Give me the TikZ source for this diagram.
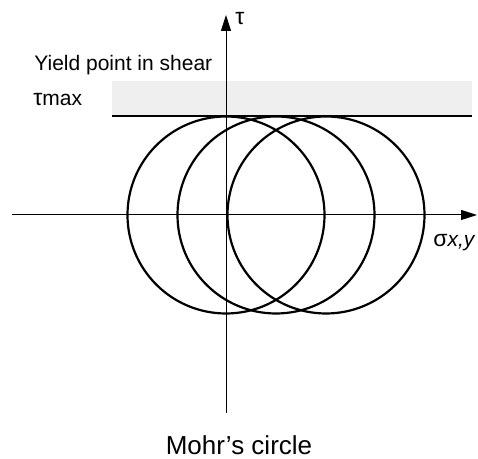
\documentclass[tikz,border=0pt]{standalone}
\usepackage{fontspec}
\setmainfont{Liberation Sans}
\usepackage{xcolor}
\usetikzlibrary{arrows.meta}
\definecolor{bandgray}{RGB}{239,239,239}

\begin{document}
\begin{tikzpicture}[x=0.5pt,y=0.5pt,
    lbl/.style={inner sep=0pt,font=\fontsize{10.5}{12}\selectfont},
    mohr/.style={line width=1.1pt},
    axis/.style={line width=0.5pt,-{Triangle[length=8pt,width=5pt]}}]
  \useasboundingbox (0,0) rectangle (478,459);
  % yield band and tau_max line
  \fill[bandgray] (112,343) rectangle (472,378);
  \coordinate (limL) at (112,343);
  \coordinate (limR) at (472,343);
  \draw[line width=1.4pt] (limL) -- (limR);
  % axes
  \coordinate (xl) at (12,244);
  \coordinate (xr) at (477,244);
  \coordinate (yb) at (226,46);
  \coordinate (yt) at (226,444);
  \draw[axis] (xl) -- (xr);
  \draw[axis] (yb) -- (yt);
  % circles
  \foreach \cx in {226,276,326}
    \draw[mohr] (\cx,244) circle[radius=98.5];
  % labels
  \node[lbl,anchor=base west] (yield) at (34,388) {Yield point in shear};
  \node[lbl,anchor=base west] (taumax) at (33,353) {\fontsize{11.5}{12}\selectfont τ\fontsize{10.5}{12}\selectfont max};
  \node[lbl,anchor=base west] (tau) at (235,434) {\fontsize{11.5}{12}\selectfont τ};
  \node[lbl,anchor=base west] (sigma) at (433,212) {\fontsize{11.5}{12}\selectfont σ\fontsize{10.5}{12}\selectfont\textit{x,y}};
  \node[lbl,font=\fontsize{13}{15}\selectfont,anchor=base] (title) at (239,4) {Mohr’s circle};
\end{tikzpicture}
\end{document}
